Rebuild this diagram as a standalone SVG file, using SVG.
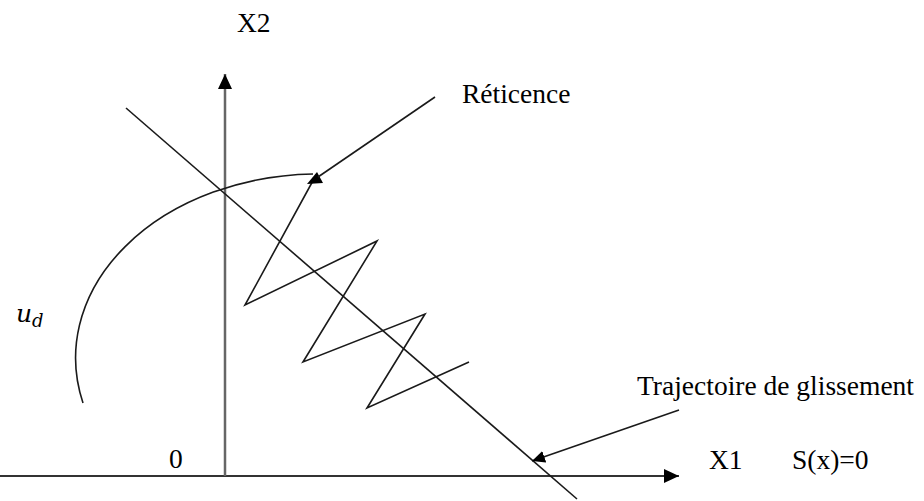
<svg xmlns="http://www.w3.org/2000/svg" width="924" height="501" viewBox="0 0 924 501">
<defs>
<style>
.t{font-family:"Liberation Serif","Times New Roman",serif;font-size:27.5px;fill:#000}
.ln{fill:none;stroke:#1a1a1a;stroke-width:1.6}
.ax{fill:none;stroke:#333;stroke-width:2}
</style>
<marker id="ah" markerWidth="16" markerHeight="14" refX="15" refY="7" orient="auto" markerUnits="userSpaceOnUse">
<path d="M0,0 L15,7 L0,14 Z" fill="#000"/>
</marker>
<marker id="ah2" markerWidth="14" markerHeight="12" refX="13" refY="6" orient="auto" markerUnits="userSpaceOnUse">
<path d="M0,0 L13,6 L0,12 Z" fill="#000"/>
</marker>
</defs>
<rect width="924" height="501" fill="#fff"/>
<g id="axes">
<line id="x1-axis" class="ax" x1="0" y1="476" x2="679" y2="476" marker-end="url(#ah)"/>
<line id="x2-axis" x1="225" y1="476" x2="225" y2="74" stroke="#666" stroke-width="2.5" marker-end="url(#ah)"/>
</g>
<g id="sliding-surface">
<line class="ln" x1="126" y1="108" x2="577" y2="499"/>
</g>
<g id="reaching-arc">
<path class="ln" d="M83,403 A243,184 0 0 1 313,174"/>
</g>
<g id="chattering">
<polyline class="ln" points="469,362 367,408 425,314 303,362 377,241 245,305 315,177"/>
<polygon points="317,172 307,184 323,183" fill="#000"/>
</g>
<g id="connectors">
<line class="ln" x1="435" y1="97" x2="318" y2="177"/>
<line class="ln" x1="679" y1="410" x2="532" y2="461" marker-end="url(#ah2)"/>
</g>
<g id="labels">
<text class="t" x="237" y="32">X2</text>
<text class="t" x="462" y="103">Réticence</text>
<text x="16" y="322" font-family="'DejaVu Serif','Liberation Serif',serif" font-style="italic" font-size="25" fill="#000">u<tspan font-size="18" dy="5">d</tspan></text>
<text class="t" x="169" y="468">0</text>
<text class="t" x="709" y="469">X1</text>
<text class="t" x="792" y="469">S(x)=0</text>
<text class="t" x="637" y="395">Trajectoire de glissement</text>
</g>
</svg>
